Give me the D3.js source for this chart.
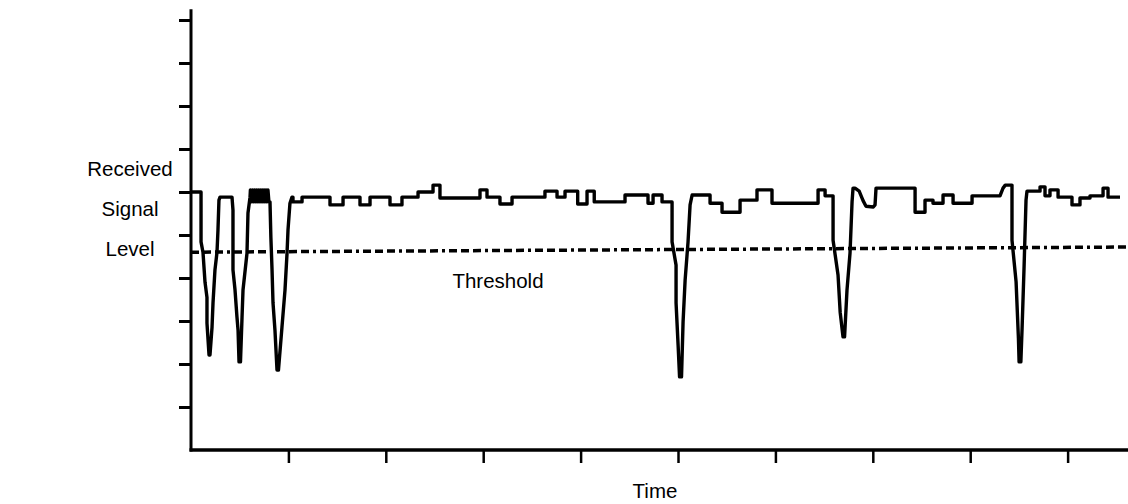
<!DOCTYPE html>
<html>
<head>
<meta charset="utf-8">
<script src="https://cdn.jsdelivr.net/npm/d3@7"></script>
<style>
	body { margin: 0; background: #fff; }
	text { font-family: 'Liberation Sans', Arial, sans-serif; font-size: 20.5px; fill: #000; }
</style>
</head>
<body>
<svg id="svg-container" width="1128" height="504"></svg>
<script>
// Axis labels and tick positions (time units, level units)
var yLabels = ['Received', 'Signal', 'Level'],
	xLabel = 'Time',
	thresholdLabel = 'Threshold',
	timeTicks = [100, 200, 300, 400, 500, 600, 700, 800, 900],
	levelTicks = [1, 2, 3, 4, 5, 6, 7, 8, 9, 10];

// Threshold line (start / end)
var threshold = [[0, 4.60], [962, 4.72]];

// Received signal trace [time, level]
var signal = [
	[0, 6.00], [10.3, 6.00], [10.3, 4.84], [12.3, 4.60], [14.4, 3.90], [16.4, 3.55], [16.4, 2.95],
	[18.5, 2.21], [19.5, 2.21], [21.6, 2.86], [22.6, 3.42], [24.6, 4.19], [26.7, 4.60], [27.7, 5.12],
	[28.7, 5.81], [29.8, 5.88], [42.1, 5.88], [43.1, 5.58], [43.1, 4.19], [45.2, 3.72], [47.2, 3.09],
	[48.3, 2.79], [49.3, 2.05], [50.8, 2.05], [52.4, 3.09], [53.4, 3.72], [57.5, 4.58], [58.5, 5.51],
	[60.6, 5.88],
	// fast flutter
	[61, 6.05], [62, 5.77], [63, 6.05], [64, 5.77], [65, 6.05], [66, 5.77], [67, 6.05], [68, 5.77],
	[69, 6.05], [70, 5.77], [71, 6.05], [72, 5.77], [73, 6.05], [74, 5.77], [75, 6.05], [76, 5.77],
	[77, 6.05], [78, 5.77], [79, 6.05], [80, 5.77], [81.1, 5.77],
	[82, 4.95], [83.2, 4.19], [84.2, 3.42], [86.2, 2.79], [88.3, 1.86], [89.8, 1.86], [93.4, 2.86],
	[96.5, 3.72], [98.6, 4.58], [99.6, 5.12], [101.6, 5.74], [103.7, 5.88], [104.7, 5.88], [104.7, 5.77],
	[114.0, 5.77], [114.0, 5.88], [142.7, 5.88], [142.7, 5.70], [156.1, 5.70], [156.1, 5.88],
	[173.5, 5.88], [173.5, 5.70], [183.8, 5.70], [183.8, 5.88], [204.3, 5.88], [204.3, 5.70],
	[216.6, 5.70], [216.6, 5.88], [233.1, 5.88], [233.1, 6.00], [248.5, 6.00], [248.5, 6.16],
	[255.6, 6.16], [255.6, 5.86], [296.7, 5.86], [296.7, 6.05], [303.9, 6.05], [303.9, 5.88],
	[317.2, 5.88], [317.2, 5.72], [329.6, 5.72], [329.6, 5.88], [363.4, 5.88], [363.4, 6.02],
	[375.8, 6.02], [375.8, 5.88], [384.0, 5.88], [384.0, 6.02], [397, 6.02], [397, 5.72],
	[406.6, 5.72], [406.6, 6.02], [414, 6.02], [414, 5.77], [445.6, 5.77], [445.6, 5.93],
	[469.2, 5.93], [469.2, 5.74], [474.4, 5.74], [474.4, 5.93], [483.6, 5.93], [483.6, 5.77],
	[493.9, 5.77],
	[493.9, 4.84], [498.0, 4.30], [498.0, 3.42], [500.1, 2.44], [501.6, 1.70], [503.6, 1.70],
	[505.2, 2.98], [507.3, 3.95], [510.3, 4.84], [512.4, 5.70], [514.5, 5.93], [532.9, 5.93],
	[532.9, 5.74], [545.2, 5.74], [545.2, 5.53], [563.7, 5.53], [563.7, 5.81], [581.1, 5.81],
	[581.1, 6.05], [596.5, 6.05], [596.5, 5.74], [643.8, 5.74], [643.8, 6.05], [651.0, 6.05],
	[651.0, 5.91], [659.2, 5.91],
	[659.2, 4.88], [664.3, 4.07], [666.5, 3.20], [669.4, 2.63], [671.0, 2.63], [673.5, 3.72],
	[676.6, 4.58], [678.7, 5.77], [679.7, 6.09], [681.7, 6.09], [686.0, 6.02], [690.0, 5.80],
	[693.0, 5.67], [700.5, 5.65], [702.3, 5.70], [703.3, 6.09], [743.4, 6.09], [743.4, 5.53],
	[753.6, 5.53], [753.6, 5.81], [761.8, 5.81], [761.8, 5.74], [772.1, 5.74], [772.1, 5.93],
	[782.4, 5.93], [782.4, 5.74], [801.9, 5.74], [801.9, 5.91], [830.6, 5.91], [833.7, 6.09],
	[836, 6.16], [842.9, 6.16],
	[842.9, 4.88], [847.1, 3.91], [849.5, 2.60], [850.2, 2.05], [852.0, 2.05], [853.2, 2.79],
	[855.3, 4.26], [857.3, 5.81], [858.3, 6.02], [871.7, 6.02], [871.7, 6.12], [876.8, 6.12],
	[876.8, 5.91], [881.9, 5.91], [881.9, 6.05], [890.2, 6.05], [890.2, 5.88], [904.5, 5.88],
	[904.5, 5.70], [912.7, 5.70], [912.7, 5.86], [923.0, 5.86], [923.0, 5.91], [936.4, 5.91],
	[936.4, 6.09], [941.5, 6.09], [941.5, 5.88], [953.8, 5.88]
];

var svg = d3.select('#svg-container'),
	width = +svg.attr('width'),
	height = +svg.attr('height');

var margin = { left: 191, top: 20, right: 0, bottom: 54 };

var x = d3.scaleLinear().domain([0, 962]).range([margin.left, width - margin.right]),
	y = d3.scaleLinear().domain([0, 10]).range([height - margin.bottom, margin.top]);

// Y axis: ticks only, domain line drawn separately
var yAxis = svg.append('g')
	.attr('transform', 'translate(' + margin.left + ',0)')
	.call(d3.axisLeft(y).tickValues(levelTicks).tickSize(12).tickSizeOuter(0).tickFormat(''));
yAxis.select('.domain').remove();
yAxis.selectAll('.tick line').attr('stroke', '#000').attr('stroke-width', 3);

var xAxis = svg.append('g')
	.attr('transform', 'translate(0,' + y(0) + ')')
	.call(d3.axisBottom(x).tickValues(timeTicks).tickSize(13).tickSizeOuter(0).tickFormat(''));
xAxis.select('.domain').remove();
xAxis.selectAll('.tick line').attr('stroke', '#000').attr('stroke-width', 2.5);

// Axis lines
svg.append('line')
	.attr('x1', x(0)).attr('x2', x(0))
	.attr('y1', y(10.25)).attr('y2', y(0) + 1.5)
	.attr('stroke', '#000').attr('stroke-width', 3);
svg.append('line')
	.attr('x1', x(0) - 1.5).attr('x2', width)
	.attr('y1', y(0)).attr('y2', y(0))
	.attr('stroke', '#000').attr('stroke-width', 3.5);

// Threshold, dash-dot
svg.append('path')
	.datum(threshold)
	.attr('d', d3.line().x(function (d) { return x(d[0]); }).y(function (d) { return y(d[1]); }))
	.attr('fill', 'none')
	.attr('stroke', '#000')
	.attr('stroke-width', 3.5)
	.attr('stroke-dasharray', '8,4,8,4,8,4,3,4');

// Signal trace
svg.append('path')
	.datum(signal)
	.attr('d', d3.line().x(function (d) { return x(d[0]); }).y(function (d) { return y(d[1]); }))
	.attr('fill', 'none')
	.attr('stroke', '#000')
	.attr('stroke-width', 3.4)
	.attr('stroke-linejoin', 'round');

// Labels
svg.append('g').selectAll('text')
	.data(yLabels)
	.enter().append('text')
	.attr('x', 130)
	.attr('y', function (d, i) { return 176 + i * 40; })
	.attr('text-anchor', 'middle')
	.text(function (d) { return d; });

svg.append('text')
	.attr('x', 498).attr('y', 288)
	.attr('text-anchor', 'middle')
	.text(thresholdLabel);

svg.append('text')
	.attr('x', 655).attr('y', 498)
	.attr('text-anchor', 'middle')
	.text(xLabel);
</script>
</body>
</html>
